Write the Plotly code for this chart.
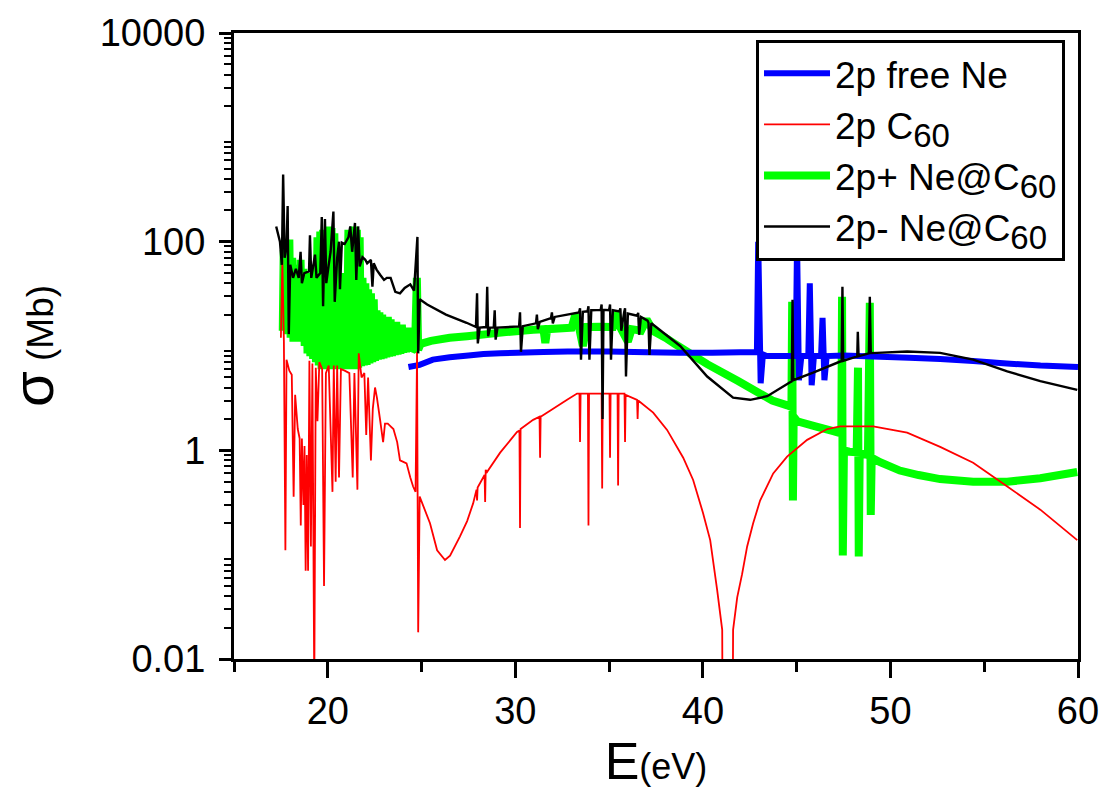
import plotly.graph_objects as go

# ---------------- data (E in eV, sigma in Mb) ----------------
e_blue = [24.3, 24.9, 25.6, 26.5, 27.5, 28.3, 29.2, 30.1, 31.5, 32.8,
          35.0, 37.0, 38.8, 40.5, 42.0, 42.88, 42.95, 43.08, 43.2, 43.4,
          44.5, 44.95, 45.02, 45.12, 45.25, 45.62, 45.7, 45.8, 45.92, 46.3,
          46.38, 46.48, 46.6, 47.5, 49.45, 51.0, 52.65, 54.41, 56.2, 58.0,
          60.0]
s_blue = [6.3, 6.6, 7.4, 7.8, 8.1, 8.4, 8.5, 8.6, 8.75, 8.85,
          8.85, 8.7, 8.6, 8.6, 8.7, 8.7, 100, 4.4, 8.3, 8.0,
          8.0, 8.0, 100, 4.7, 8.0, 8.0, 40, 4.2, 8.0, 8.0,
          18.6, 4.7, 8.0, 8.1, 7.9, 7.7, 7.5, 7.2, 6.8, 6.5,
          6.3]

e_red = [17.50, 17.58, 17.66, 17.74, 17.80, 17.95, 18.08, 18.18, 18.26, 18.40,
         18.50, 18.56, 18.62, 18.70, 18.76, 18.82, 18.88, 18.95, 19.02, 19.10,
         19.18, 19.28, 19.36, 19.45, 19.55, 19.70, 19.80, 19.90, 20.05, 20.25,
         20.32, 20.42, 20.50, 20.60, 20.70, 20.90, 21.15, 21.33, 21.42, 21.58,
         21.65, 21.80, 21.95, 22.05, 22.15, 22.30, 22.40, 22.52, 22.62, 22.80,
         22.95, 23.05, 23.20, 23.35, 23.50, 23.70, 23.85, 24.00, 24.20, 24.40,
         24.55, 24.68, 24.76, 24.82, 24.90, 25.45, 25.83, 26.25, 26.52, 27.05,
         27.43, 27.75, 27.93, 27.96, 27.99, 28.36, 28.39, 28.42, 28.49, 29.19,
         30.09, 30.22, 30.25, 30.28, 30.95, 31.29, 31.32, 31.35, 31.85, 32.76,
         33.29, 33.42, 33.45, 33.48, 33.87, 33.90, 33.93, 34.60, 34.63, 34.66,
         35.02, 35.05, 35.08, 35.45, 35.48, 35.51, 35.82, 35.85, 35.88, 36.49,
         36.52, 36.55, 37.35, 38.09, 38.95, 39.48, 40.01, 40.39, 40.76, 41.03,
         41.06, 41.58, 41.61, 41.83, 42.09, 42.36, 42.68, 43.05, 43.75, 44.49,
         45.56, 46.63, 47.32, 49.08, 50.89, 52.65, 54.41, 56.23, 57.99, 59.96]
s_red = [12, 67, 11, 0.11, 7.4, 5.8, 5.3, 0.36, 3.4, 1.6,
         1.3, 0.19, 1.3, 0.3, 1.1, 0.07, 0.9, 0.07, 7.2, 0.12,
         6.8, 0.005, 6.2, 1.9, 7.0, 6.0, 0.05, 5.5, 6.5, 0.4,
         6.5, 0.5, 6.5, 0.55, 6.0, 5.8, 5.5, 0.55, 5.5, 0.42,
         8.5, 5.0, 5.5, 1.4, 5.0, 0.8, 2.5, 4.0, 3.2, 1.9,
         1.2, 1.8, 1.8, 1.7, 1.6, 1.2, 0.8, 0.78, 0.75, 0.55,
         0.45, 0.4, 8.8, 0.018, 0.36, 0.2, 0.11, 0.089, 0.098, 0.15,
         0.21, 0.31, 0.42, 0.33, 0.44, 0.58, 0.32, 0.65, 0.62, 0.95,
         1.5, 1.55, 0.18, 1.6, 1.96, 2.1, 0.85, 2.1, 2.4, 3.05,
         3.5, 3.5, 1.2, 3.5, 3.5, 0.19, 3.5, 3.5, 0.43, 3.5,
         3.5, 0.85, 3.5, 3.5, 0.46, 3.5, 3.5, 1.2, 3.4, 3.05,
         2.0, 3.0, 2.3, 1.57, 0.85, 0.52, 0.25, 0.138, 0.046, 0.019,
         0.001, 0.001, 0.019, 0.039, 0.065, 0.12, 0.20, 0.33, 0.60, 0.87,
         1.26, 1.6, 1.7, 1.7, 1.48, 1.08, 0.76, 0.45, 0.27, 0.138]

e_green = [17.60, 17.65, 17.72, 17.80, 17.87, 17.95, 18.02, 18.10, 18.17, 18.25,
           18.32, 18.40, 18.47, 18.55, 18.62, 18.70, 18.77, 18.85, 18.92, 19.00,
           19.07, 19.15, 19.22, 19.30, 19.37, 19.45, 19.52, 19.60, 19.67, 19.75,
           19.82, 19.90, 19.97, 20.05, 20.12, 20.20, 20.27, 20.35, 20.42, 20.50,
           20.57, 20.65, 20.72, 20.80, 20.87, 20.95, 21.02, 21.10, 21.17, 21.25,
           21.32, 21.40, 21.47, 21.55, 21.62, 21.70, 21.77, 21.85, 21.92, 22.00,
           22.07, 22.15, 22.22, 22.30, 22.37, 22.45, 22.52, 22.60, 22.67, 22.75,
           22.82, 22.90, 22.97, 23.05, 23.12, 23.20, 23.27, 23.35, 23.42, 23.50,
           23.57, 23.65, 23.72, 23.80, 23.87, 23.95, 24.02, 24.10, 24.17, 24.25,
           24.32, 24.40, 24.50, 24.65, 24.75, 24.82, 24.95, 25.5, 26.5, 27.43,
           28.5, 29.5, 30.95, 31.5, 31.6, 31.7, 33.0, 33.2, 33.4, 33.6,
           33.8, 34.5, 35.2, 35.4, 35.6, 36.0, 36.2, 36.7, 37.0, 37.35,
           38.0, 38.5, 40.23, 41.9, 43.7, 44.5, 44.72, 44.76, 44.80, 44.84,
           45.03, 46.0, 47.0, 47.38, 47.42, 47.46, 47.52, 47.8, 48.2, 48.27,
           48.31, 48.36, 48.8, 48.9, 48.95, 49.0, 49.45, 50.5, 51.5, 52.65,
           54.41, 56.23, 57.99, 59.96]
s_green = [14, 83, 14, 100, 13, 105, 12, 70, 11, 60,
           11, 55, 12, 67, 11, 55, 10, 45, 8.5, 50,
           8, 45, 7.5, 60, 7, 110, 6.5, 125, 6, 130,
           6, 120, 6, 140, 6, 135, 6, 120, 6.2, 90,
           6, 50, 6, 17, 6, 18, 6, 130, 6, 125,
           6, 140, 6, 130, 6.2, 110, 6.4, 45, 6.5, 40,
           6.6, 35, 6.8, 32, 7, 28, 7.2, 22, 7.4, 21,
           7.5, 20, 7.6, 18, 7.8, 19, 7.9, 18, 8, 17,
           8.2, 17, 8.3, 16, 8.4, 16, 8.6, 15, 8.7, 15,
           8.8, 15, 9, 9.5, 45, 9.2, 10.5, 11.2, 12, 12.4,
           13.0, 13.6, 14.3, 14.5, 10.7, 14.5, 15, 20, 15, 10,
           15.2, 15.3, 15.2, 21, 15, 11, 14.5, 14, 18, 13.9,
           12, 10.5, 6.7, 4.6, 3.0, 2.7, 2.6, 26.5, 0.33, 2.1,
           1.9, 1.7, 1.52, 1.45, 29.7, 0.098, 1.0, 0.97, 0.96, 6.2,
           0.096, 0.95, 0.9, 26, 0.24, 0.85, 0.77, 0.64, 0.58, 0.53,
           0.50, 0.50, 0.54, 0.62]

e_black = [17.25, 17.45, 17.55, 17.62, 17.70, 17.80, 17.86, 17.92, 18.00, 18.15,
           18.30, 18.45, 18.55, 18.62, 18.75, 19.00, 19.05, 19.12, 19.32, 19.40,
           19.60, 19.68, 19.75, 19.85, 19.92, 20.05, 20.15, 20.30, 20.37, 20.50,
           20.60, 20.65, 20.75, 20.90, 21.10, 21.20, 21.30, 21.45, 21.52, 21.62,
           21.70, 21.85, 22.00, 22.10, 22.30, 22.38, 22.45, 22.60, 22.80, 23.00,
           23.15, 23.35, 23.60, 23.85, 24.10, 24.40, 24.60, 24.78, 24.82, 24.90,
           25.30, 26.30, 27.40, 27.90, 27.96, 28.00, 28.10, 28.45, 28.50, 28.55,
           28.65, 28.85, 28.90, 28.95, 29.05, 30.20, 30.25, 30.30, 30.40, 31.10,
           31.15, 31.20, 31.30, 31.90, 31.95, 32.00, 32.10, 33.40, 33.45, 33.50,
           33.60, 33.85, 33.90, 33.95, 34.05, 34.55, 34.60, 34.65, 34.70, 35.00,
           35.05, 35.10, 35.20, 35.55, 35.60, 35.65, 35.80, 35.85, 35.90, 36.00,
           36.50, 36.55, 36.60, 36.70, 37.05, 37.10, 37.15, 37.25, 38.79, 40.23,
           41.61, 42.52, 43.43, 44.65, 44.74, 44.78, 44.82, 45.88, 47.32, 47.40,
           47.44, 47.48, 48.23, 48.26, 48.30, 48.85, 48.90, 48.95, 49.29, 50.89,
           52.65, 54.41, 56.23, 57.99, 59.96]
s_black = [140, 100, 60, 440, 70, 90, 220, 13, 60, 45,
           55, 45, 80, 40, 50, 52, 115, 45, 75, 45,
           50, 172, 24, 165, 40, 60, 80, 194, 26.5, 70,
           100, 35, 98, 95, 110, 140, 80, 151, 43, 140,
           58, 71, 67, 62, 67, 37, 62, 54, 48, 43,
           45, 45, 33, 32, 36, 39, 34, 111, 8.5, 28,
           25, 20, 16.7, 15.2, 32, 10.6, 15, 15.2, 37, 12.4,
           15, 15, 22, 11.5, 15, 15.4, 21, 8.8, 15.5, 16.5,
           20, 14.5, 17, 18.5, 21, 16.5, 19, 21, 23, 7.4,
           21.3, 21.5, 24, 7.4, 22, 22.2, 25, 2.0, 22.2, 22,
           25, 7.4, 22, 21.5, 23, 14, 21, 23, 5.1, 20.5,
           19.5, 20.8, 12.8, 19, 17.5, 16.7, 8.2, 16.5, 10, 5.1,
           3.2, 3.05, 3.3, 4.5, 4.6, 27.8, 4.7, 5.55, 7.1, 7.15,
           37, 7.2, 7.95, 13.7, 8.0, 8.5, 29.6, 8.55, 8.6, 8.85,
           8.6, 7.4, 5.7, 4.6, 3.8]

sub60 = '<sub><span style="font-size:33px">60</span></sub>'
names = ["2p free Ne", "2p C" + sub60, "2p+ Ne@C" + sub60, "2p- Ne@C" + sub60]

x_tickvals = [20, 30, 40, 50, 60]
y_label_vals = [0.01, 1, 100, 10000]
y_label_text = ["0.01", "1", "100", "10000"]
y_plain_decades = [0.1, 10, 1000]

# ---------------- figure ----------------
fig = go.Figure()
fig.add_trace(go.Scatter(x=e_green, y=s_green, mode="lines", name=names[2], legendrank=3,
                         line=dict(color="#00ff00", width=8, simplify=False)))
fig.add_trace(go.Scatter(x=e_blue, y=s_blue, mode="lines", name=names[0], legendrank=1,
                         line=dict(color="#0000ff", width=6, simplify=False)))
fig.add_trace(go.Scatter(x=e_red, y=s_red, mode="lines", name=names[1], legendrank=2,
                         line=dict(color="#ff0000", width=1.8, simplify=False)))
fig.add_trace(go.Scatter(x=e_black, y=s_black, mode="lines", name=names[3], legendrank=4,
                         line=dict(color="#000000", width=2.4, simplify=False)))

minor_y = [m * 10.0 ** k for k in range(-2, 4) for m in range(2, 10)]

fig.update_layout(
    width=1102, height=791,
    margin=dict(l=234, r=24, t=33, b=132, autoexpand=False),
    paper_bgcolor="white", plot_bgcolor="white",
    font=dict(family="Liberation Sans, Arial, sans-serif", color="black", size=38),
    showlegend=True,
    legend=dict(x=0.6185, y=0.9893, xanchor="left", yanchor="top",
                bgcolor="white", bordercolor="black", borderwidth=3,
                font=dict(size=37), itemwidth=66, tracegroupgap=0),
)
fig.update_xaxes(
    range=[15, 60], showline=True, linecolor="black", linewidth=3, mirror=True,
    ticks="outside", ticklen=16, tickwidth=3, tickcolor="black",
    tickmode="array", tickvals=x_tickvals,
    minor=dict(ticks="outside", ticklen=10, tickwidth=3, tickcolor="black",
               tickmode="linear", tick0=0, dtick=5, showgrid=False),
    showgrid=False, zeroline=False, tickfont=dict(size=38),
    title=dict(text='E<span style="font-size:36px">(eV)</span>', font=dict(size=52), standoff=12),
)
fig.update_layout(
    yaxis=dict(
        type="log", range=[-2, 4], showline=True, linecolor="black", linewidth=3, mirror=True,
        ticks="outside", ticklen=12, tickwidth=3, tickcolor="black",
        tickmode="array", tickvals=y_label_vals, ticktext=y_label_text,
        minor=dict(ticks="outside", ticklen=7, tickwidth=2, tickcolor="black",
                   tickmode="array", tickvals=minor_y, showgrid=False),
        showgrid=False, zeroline=False, tickfont=dict(size=38), ticklabelstandoff=6,
        title=dict(text='<span style="font-size:58px">σ</span> (Mb)', font=dict(size=37), standoff=70),
    ),
    yaxis2=dict(
        type="log", range=[-2, 4], overlaying="y", anchor="x", side="left",
        tickmode="array", tickvals=y_plain_decades, showticklabels=False,
        ticks="outside", ticklen=12, tickwidth=3, tickcolor="black",
        showline=False, showgrid=False, zeroline=False,
    ),
)

fig.write_html("out.html", config={"displayModeBar": False},
               post_script="document.body.style.margin='0px';")
